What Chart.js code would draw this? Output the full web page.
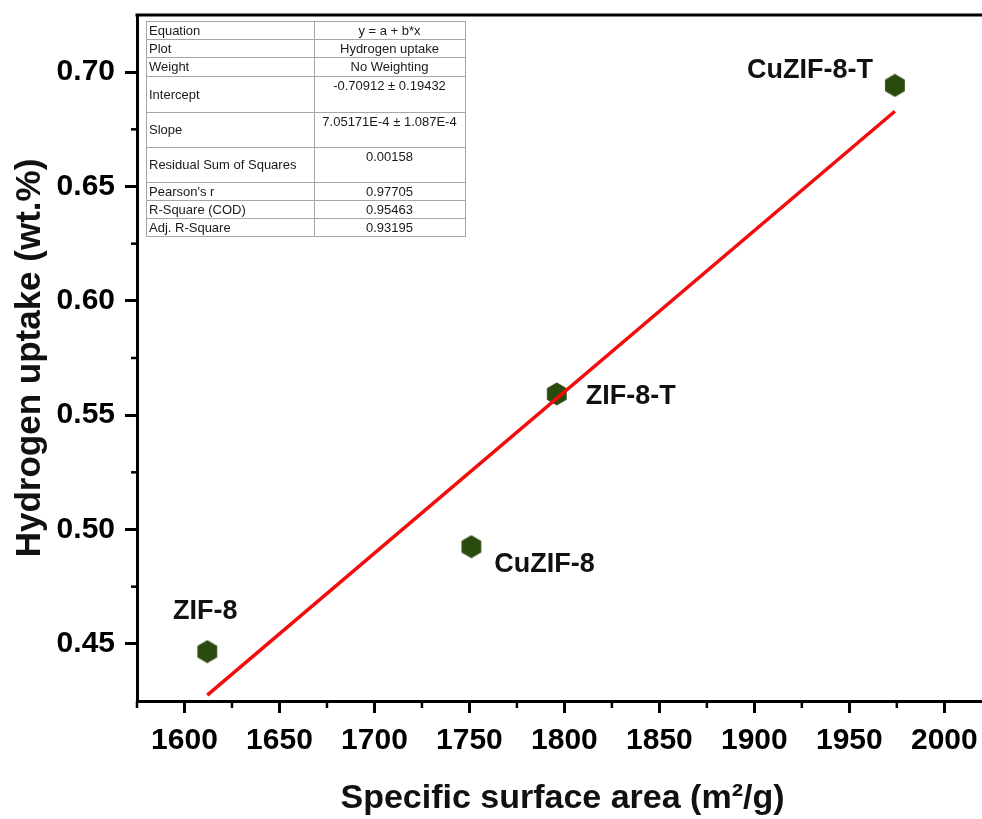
<!DOCTYPE html>
<html>
<head>
<meta charset="utf-8">
<script src="https://cdn.jsdelivr.net/npm/chart.js@4.4.0/dist/chart.umd.min.js"></script>
<style>
  html, body { margin: 0; padding: 0; background: #fff; overflow: hidden; }
  #wrap { width: 1000px; height: 819px; }
</style>
</head>
<body>
<div id="wrap"><canvas id="chart" width="1000" height="819"></canvas></div>
<script>
// data
const samples = ['ZIF-8', 'CuZIF-8', 'ZIF-8-T', 'CuZIF-8-T'];
const surfaceArea = [1612, 1751, 1796, 1974];
const h2Uptake = [0.4466, 0.4925, 0.5593, 0.6942];

// linear fit line ends
const fitX = [1612, 1974];
const fitY = [0.4276, 0.6829];

const xTicks = [1600, 1650, 1700, 1750, 1800, 1850, 1900, 1950, 2000];
const xMinor = [1575, 1625, 1675, 1725, 1775, 1825, 1875, 1925, 1975, 2025];
const yTicks = [0.45, 0.50, 0.55, 0.60, 0.65, 0.70];
const yMinor = [0.475, 0.525, 0.575, 0.625, 0.675];

const tableLabels = ['Equation', 'Plot', 'Weight', 'Intercept', 'Slope',
  'Residual Sum of Squares', "Pearson's r", 'R-Square (COD)', 'Adj. R-Square'];
const tableValues = ['y = a + b*x', 'Hydrogen uptake', 'No Weighting',
  '-0.70912 \u00b1 0.19432', '7.05171E-4 \u00b1 1.087E-4', '0.00158',
  '0.97705', '0.95463', '0.93195'];

// label placement (offset from point, px) and table layout
const labelOffsets = [[-2, -40, 'center'], [23, 18, 'left'], [29, 3, 'left'], [-22, -15, 'right']];
const rowHeights = [18, 18, 19, 36, 35, 35, 18, 18, 18];

const ctx = document.getElementById('chart').getContext('2d');

// hexagon marker
const hex = document.createElement('canvas');
hex.width = 22; hex.height = 24;
(function () {
  const c = hex.getContext('2d');
  c.fillStyle = '#2b4a0e';
  c.beginPath();
  for (let i = 0; i < 6; i++) {
    const a = Math.PI / 3 * i - Math.PI / 2;
    const px = 11 + 11.4 * Math.cos(a), py = 12 + 11.4 * Math.sin(a);
    if (i === 0) c.moveTo(px, py); else c.lineTo(px, py);
  }
  c.closePath();
  c.fill();
})();

const extras = {
  id: 'extras',
  afterDraw(chart) {
    const c = chart.ctx;
    const area = chart.chartArea;
    const xs = chart.scales.x, ys = chart.scales.y;
    c.save();
    // top frame line
    c.strokeStyle = '#000';
    c.lineWidth = 3;
    c.beginPath();
    c.moveTo(area.left - 1.5, area.top);
    c.lineTo(area.right, area.top);
    c.stroke();
    // minor ticks
    c.lineWidth = 2.5;
    xMinor.forEach(v => {
      const px = xs.getPixelForValue(v);
      if (px < area.left - 1 || px > area.right + 1) return;
      c.beginPath(); c.moveTo(px, area.bottom); c.lineTo(px, area.bottom + 7); c.stroke();
    });
    yMinor.forEach(v => {
      const py = ys.getPixelForValue(v);
      c.beginPath(); c.moveTo(area.left, py); c.lineTo(area.left - 6, py); c.stroke();
    });

    // point labels
    c.fillStyle = '#111';
    c.font = 'bold 27px "Liberation Sans", Arial, sans-serif';
    c.textBaseline = 'middle';
    samples.forEach((s, i) => {
      const px = xs.getPixelForValue(surfaceArea[i]);
      const py = ys.getPixelForValue(h2Uptake[i]);
      const o = labelOffsets[i];
      c.textAlign = o[2];
      c.fillText(s, px + o[0], py + o[1]);
    });

    // fit table
    const tx = area.left + 9, ty = area.top + 6;
    const c1 = 168, c2 = 151;
    c.strokeStyle = '#a6a6a6';
    c.lineWidth = 1;
    c.font = '13px "Liberation Sans", Arial, sans-serif';
    c.fillStyle = '#1a1a1a';
    let y = ty;
    rowHeights.forEach((h, i) => {
      c.strokeRect(tx + 0.5, y + 0.5, c1, h);
      c.strokeRect(tx + c1 + 0.5, y + 0.5, c2, h);
      c.textAlign = 'left';
      c.fillText(tableLabels[i], tx + 3, y + h / 2 + 1);
      c.textAlign = 'center';
      c.fillText(tableValues[i], tx + c1 + c2 / 2, h > 20 ? y + 10 : y + h / 2 + 1);
      y += h;
    });
    c.restore();
  }
};

new Chart(ctx, {
  type: 'scatter',
  data: {
    datasets: [
      {
        label: 'Linear fit',
        data: fitX.map((v, i) => ({ x: v, y: fitY[i] })),
        showLine: true,
        borderColor: '#f20c0c',
        borderWidth: 3.5,
        pointRadius: 0,
        fill: false
      },
      {
        label: 'Hydrogen uptake',
        data: surfaceArea.map((v, i) => ({ x: v, y: h2Uptake[i] })),
        pointStyle: hex,
        pointRadius: 11,
        pointHoverRadius: 11
      }
    ]
  },
  options: {
    responsive: false,
    animation: false,
    events: [],
    layout: { padding: { top: 15, right: 10, left: 0, bottom: 0 } },
    plugins: { legend: { display: false }, tooltip: { enabled: false } },
    scales: {
      x: {
        type: 'linear',
        min: 1575,
        max: 2023,
        afterBuildTicks: s => { s.ticks = xTicks.map(v => ({ value: v })); },
        afterFit: s => { s.height = 118; s.paddingLeft = 0; s.paddingRight = 0; },
        grid: { display: true, drawOnChartArea: false, tickLength: 12, tickWidth: 3, tickColor: '#000' },
        border: { display: true, color: '#000', width: 3 },
        ticks: {
          color: '#000',
          padding: 10,
          maxRotation: 0,
          font: { family: '"Liberation Sans", Arial, sans-serif', size: 30, weight: 'bold' },
          callback: v => String(v)
        },
        title: {
          display: true,
          text: 'Specific surface area (m\u00b2/g)',
          color: '#111',
          padding: { top: 0, bottom: 0 },
          font: { family: '"Liberation Sans", Arial, sans-serif', size: 34, weight: 'bold', lineHeight: 1.2 }
        }
      },
      y: {
        type: 'linear',
        min: 0.425,
        max: 0.725,
        afterBuildTicks: s => { s.ticks = yTicks.map(v => ({ value: v })); },
        afterFit: s => { s.width = 137; s.paddingTop = 0; s.paddingBottom = 0; },
        grid: { display: true, drawOnChartArea: false, tickLength: 12, tickWidth: 3, tickColor: '#000' },
        border: { display: true, color: '#000', width: 3 },
        ticks: {
          color: '#000',
          padding: 10,
          font: { family: '"Liberation Sans", Arial, sans-serif', size: 30, weight: 'bold' },
          callback: v => Number(v).toFixed(2)
        },
        title: {
          display: true,
          text: 'Hydrogen uptake (wt.%)',
          color: '#111',
          padding: { top: 9, bottom: 0 },
          font: { family: '"Liberation Sans", Arial, sans-serif', size: 35, weight: 'bold', lineHeight: 1.2 }
        }
      }
    }
  },
  plugins: [extras]
});
</script>
</body>
</html>
